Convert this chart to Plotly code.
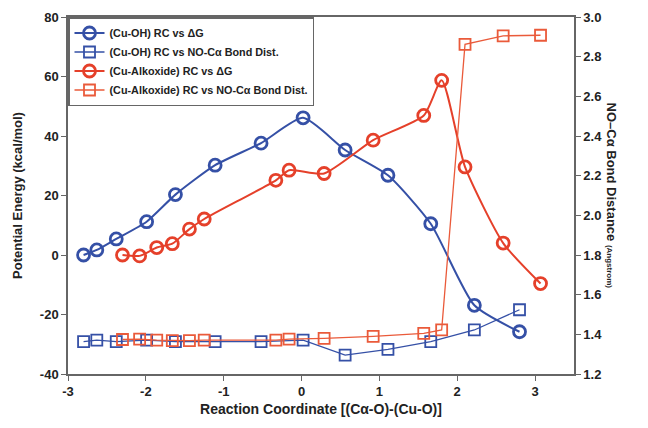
import plotly.graph_objects as go

# Data
x_oh = [-2.80, -2.63, -2.38, -1.99, -1.62, -1.11, -0.52, 0.02, 0.56, 1.11, 1.66, 2.22, 2.80]
dg_oh = [0.0, 1.7, 5.4, 11.2, 20.3, 30.2, 37.6, 46.1, 35.3, 26.8, 10.5, -16.9, -25.8]
dist_oh = [1.363, 1.371, 1.363, 1.371, 1.363, 1.363, 1.363, 1.371, 1.295, 1.324, 1.363, 1.422, 1.524]

x_alk = [-2.30, -2.08, -1.86, -1.66, -1.44, -1.25, -0.33, -0.16, 0.29, 0.92, 1.57, 1.80, 2.10, 2.59, 3.07]
dg_alk = [0.0, -0.3, 2.5, 3.8, 8.7, 12.1, 25.1, 28.5, 27.4, 38.6, 46.9, 58.7, 29.6, 4.0, -9.6]
dist_alk = [1.374, 1.376, 1.371, 1.368, 1.368, 1.371, 1.371, 1.376, 1.380, 1.390, 1.405, 1.422, 2.862, 2.905, 2.908]

x_ticks = [-3, -2, -1, 0, 1, 2, 3]
left_ticks = [-40, -20, 0, 20, 40, 60, 80]
right_ticks = [1.2, 1.4, 1.6, 1.8, 2.0, 2.2, 2.4, 2.6, 2.8, 3.0]

BLUE = "#3550a6"
RED = "#e5402a"
RED2 = "#ea5a3a"

fig = go.Figure()
fig.add_trace(go.Scatter(x=x_oh, y=dg_oh, mode="lines+markers", name="<b>(Cu-OH) RC vs ΔG</b>",
                         line=dict(color=BLUE, width=2, shape="spline", smoothing=0.6),
                         marker=dict(symbol="circle-open", size=12, color=BLUE, line=dict(width=2.8, color=BLUE))))
fig.add_trace(go.Scatter(x=x_oh, y=dist_oh, mode="lines+markers", name="<b>(Cu-OH) RC vs NO-Cα Bond Dist.</b>",
                         yaxis="y2", line=dict(color=BLUE, width=1.3),
                         marker=dict(symbol="square-open", size=11, color=BLUE, line=dict(width=1.8, color=BLUE))))
fig.add_trace(go.Scatter(x=x_alk, y=dg_alk, mode="lines+markers", name="<b>(Cu-Alkoxide) RC vs ΔG</b>",
                         line=dict(color=RED, width=2, shape="spline", smoothing=0.6),
                         marker=dict(symbol="circle-open", size=12, color=RED, line=dict(width=2.8, color=RED))))
fig.add_trace(go.Scatter(x=x_alk, y=dist_alk, mode="lines+markers", name="<b>(Cu-Alkoxide) RC vs NO-Cα Bond Dist.</b>",
                         yaxis="y2", line=dict(color=RED2, width=1.3),
                         marker=dict(symbol="square-open", size=11, color=RED2, line=dict(width=1.8, color=RED2))))

axis_font = dict(family="Liberation Sans, Arial, sans-serif", size=13, color="#222")
fig.update_layout(
    width=632, height=412,
    margin=dict(l=60, r=66, t=9, b=46),
    paper_bgcolor="white", plot_bgcolor="white",
    font=dict(family="Liberation Sans, Arial, sans-serif", color="#222"),
    showlegend=True,
    legend=dict(x=0, y=1, xanchor="left", yanchor="top", bgcolor="white",
                bordercolor="#666", borderwidth=1.5,
                font=dict(size=10.8, family="Liberation Sans, Arial, sans-serif", color="#222"),
                tracegroupgap=0, itemwidth=30),
    xaxis=dict(range=[-3, 3.5], tickvals=x_ticks, ticktext=[f"<b>{v}</b>" for v in x_ticks],
               ticks="outside", ticklen=5, tickcolor="#666", showline=True, linecolor="#666", linewidth=1.5,
               mirror=True, showgrid=False, zeroline=False, tickfont=axis_font, automargin=False,
               title=dict(text="<b>Reaction Coordinate [(Cα-O)-(Cu-O)]</b>", font=dict(size=14), standoff=6)),
    yaxis=dict(range=[-40, 80], tickvals=left_ticks, ticktext=[f"<b>{v}</b>" for v in left_ticks],
               ticks="outside", ticklen=5, tickcolor="#666", showline=True, linecolor="#666", linewidth=1.5,
               showgrid=False, zeroline=False, tickfont=axis_font, automargin=False,
               title=dict(text="<b>Potential Energy (kcal/mol)</b>", font=dict(size=13), standoff=14)),
    yaxis2=dict(range=[1.2, 3.0], overlaying="y", side="right", tickvals=right_ticks,
                ticktext=[f"<b>{v:.1f}</b>" for v in right_ticks], automargin=False,
                ticks="outside", ticklen=5, tickcolor="#666", showline=True, linecolor="#666", linewidth=1.5,
                showgrid=False, zeroline=False, tickfont=axis_font),
)
fig.add_annotation(text="<b>NO–Cα Bond Distance</b> <b><span style='font-size:8px'>(Angstrom)</span></b>",
                   xref="paper", yref="paper", x=1.075, y=0.5, textangle=90, showarrow=False,
                   font=dict(size=13, color="#222"), xanchor="center", yanchor="middle")

fig.write_html("out.html")
